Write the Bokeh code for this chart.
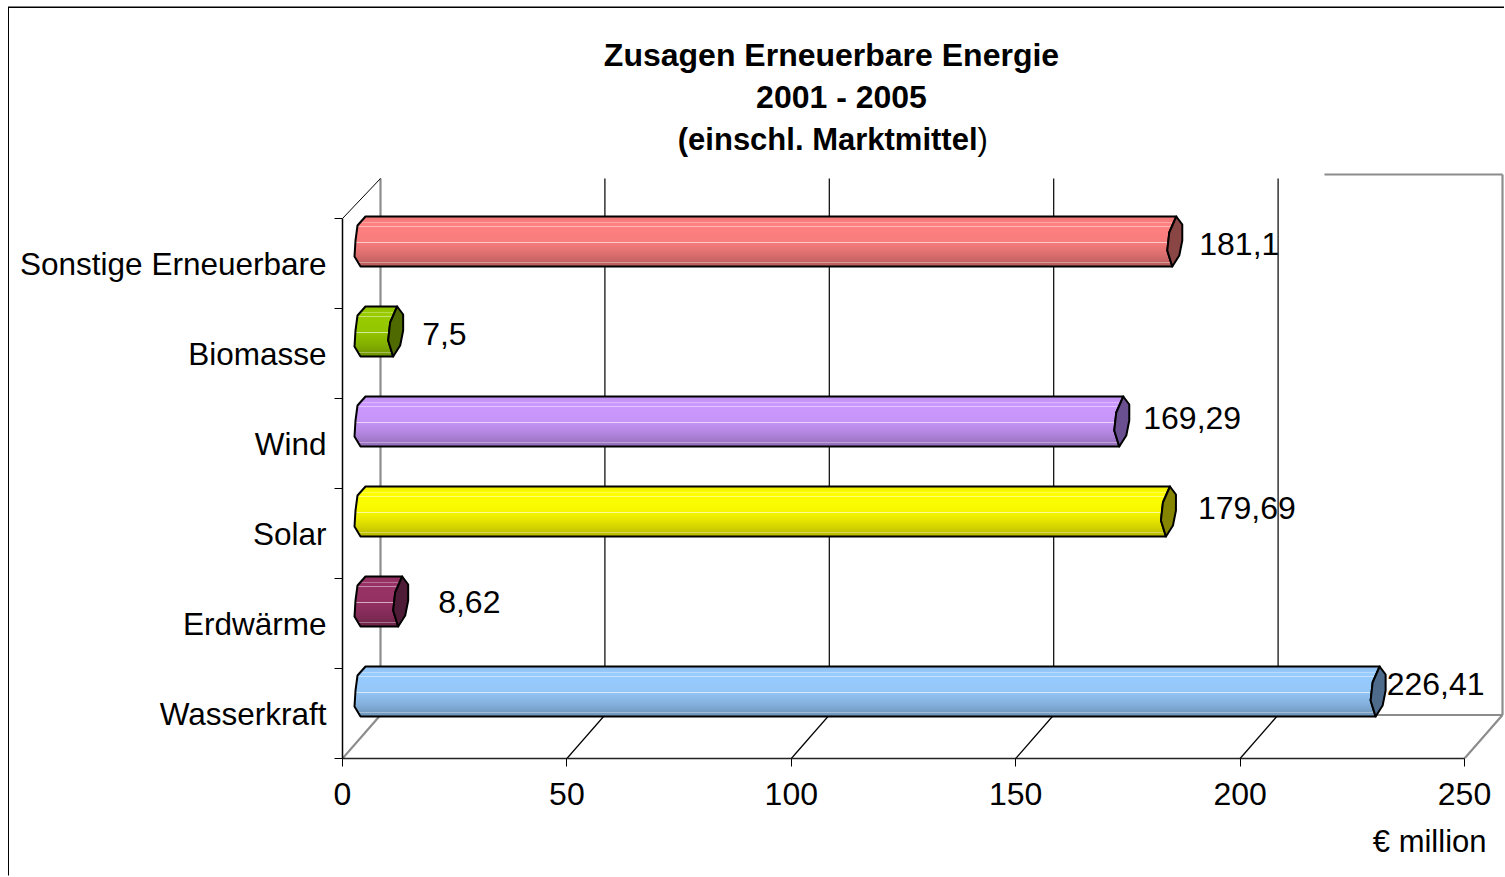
from bokeh.plotting import figure
from bokeh.embed import file_html
from bokeh.resources import INLINE
from bokeh.core.properties import value
from bokeh.models import FixedTicker, Title, Range1d, ColumnDataSource

# ---- data (bottom to top, as on the axis) ----
categories = ["Wasserkraft", "Erdwärme", "Solar", "Wind", "Biomasse", "Sonstige Erneuerbare"]
values = [226.41, 8.62, 179.69, 169.29, 7.5, 181.1]
value_labels = ["226,41", "8,62", "179,69", "169,29", "7,5", "181,1"]
x_ticks = [0, 50, 100, 150, 200, 250]
title_lines = ["Zusagen Erneuerbare Energie", "2001 - 2005", "(einschl. Marktmittel"]
title_tail = ")"
unit_label = "€ million"

# ---- styles ----
base_colors = ["#99CCFF", "#993366", "#FFFF00", "#CC99FF", "#99CC00", "#FF8080"]
cap_colors = ["#4F6B8C", "#4F1C38", "#858500", "#6A5090", "#4F6A00", "#8A4545"]
label_dx = [28, 57, 49, 41, 46, 44]
label_dy = [-30, -22, -26, -26, -20, -20]
FONT = "Liberation Sans"
PX_X = 4.488   # pixels per unit on x
PX_Y = 90.0    # pixels per category on y
BAR_H = 50
BAR_RISE = 42  # pixels from category base to bar bottom
DEPTH_X = 38
DEPTH_Y = 43.5
TOP_Y = 580

PAGE_L, PAGE_T = 9, 8
W, H = 1505 - PAGE_L, 877 - PAGE_T
LEFT, BOTTOM_PX = 342 - PAGE_L, 877 - 758

def dx(px):
    return px / PX_X

def dy(px):
    return px / PX_Y

p = figure(width=W, height=H, output_backend="svg", toolbar_location=None,
           x_range=Range1d(0, (1505 - 342) / PX_X), y_range=Range1d(0, (758 - PAGE_T) / PX_Y),
           min_border_left=LEFT, min_border_bottom=BOTTOM_PX, min_border_top=0, min_border_right=0,
           tools="")
p.outline_line_color = None
p.grid.visible = False
p.styles = {"margin-left": f"{PAGE_L}px", "margin-top": f"{PAGE_T}px",
            "box-shadow": "-1px -1.5px 0 0 #000000"}

# ---- axes ----
xa = p.xaxis[0]
xa.ticker = FixedTicker(ticks=x_ticks)
xa.bounds = (0, 250)
xa.major_tick_out = 8
xa.major_tick_in = 0
xa.minor_tick_out = 0
xa.minor_tick_in = 0
xa.axis_line_color = "#222222"
xa.axis_line_width = 1.5
xa.major_tick_line_color = "black"
xa.major_label_text_font = FONT
xa.major_label_text_font_size = "32px"
xa.major_label_text_color = "black"
xa.major_label_standoff = 16

ya = p.yaxis[0]
centers = [i + 0.5 for i in range(len(categories))]
ya.ticker = FixedTicker(ticks=centers, minor_ticks=list(range(len(categories) + 1)))
ya.major_label_overrides = {c: n for c, n in zip(centers, categories)}
ya.bounds = (0, len(categories))
ya.major_tick_out = 0
ya.major_tick_in = 0
ya.minor_tick_out = 8
ya.minor_tick_in = 0
ya.minor_tick_line_color = "black"
ya.axis_line_color = "black"
ya.axis_line_width = 1.5
ya.major_label_text_font = FONT
ya.major_label_text_font_size = "31.5px"
ya.major_label_text_color = "black"
ya.major_label_standoff = 8

# ---- 3-D walls ----
for t in x_ticks:
    edge = t in (0, 250)
    col, lw = ("#8c8c8c", 2.2) if edge else ("black", 1.2)
    # floor
    p.line([t, t + dx(DEPTH_X)], [0, dy(DEPTH_Y)], line_color=col, line_width=lw)
    # back wall
    top = dy(TOP_Y + 4) if t == 250 else dy(TOP_Y)
    p.line([t + dx(DEPTH_X)] * 2, [dy(DEPTH_Y), top], line_color=col, line_width=lw)
p.line([0, dx(DEPTH_X)], [len(categories), dy(TOP_Y)], line_color="black", line_width=1)
# back wall, bottom and the visible piece of its top edge
p.line([0 + dx(DEPTH_X), 250 + dx(DEPTH_X)], [dy(DEPTH_Y)] * 2, line_color="#8c8c8c", line_width=2.2)
p.line([218.8, 250 + dx(DEPTH_X)], [dy(TOP_Y + 4)] * 2, line_color="#8c8c8c", line_width=2.2)

# ---- cylinder outline, pixel offsets from bar top ----
left_off = [(23, 0), (15, 9), (13, 24), (12, 40), (18, 50)]
inner_off = [(21, 0), (14, 16), (12, 34), (17, 50)]
outer_off = [(21, 0), (27, 8), (27, 24), (24, 39), (17, 50)]
shade_stops = [(0, 0.93), (0.14, 1.0), (0.5, 0.97), (0.72, 0.88), (1.0, 0.72)]
highlight_at = {6: 0.3, 10: 0.45, 26: 0.6, 46: 0.35}

def interp(pairs, y):
    """x offset of a polyline given as (x, y) at height y"""
    for (x0, y0), (x1, y1) in zip(pairs, pairs[1:]):
        if y0 <= y <= y1:
            return x0 + (x1 - x0) * (y - y0) / (y1 - y0)
    return pairs[-1][0]

def shade(t):
    for (t0, s0), (t1, s1) in zip(shade_stops, shade_stops[1:]):
        if t0 <= t <= t1:
            return s0 + (s1 - s0) * (t - t0) / (t1 - t0)
    return shade_stops[-1][1]

def mix(hex_col, s):
    rgb = [int(hex_col[k:k + 2], 16) * s for k in (1, 3, 5)]
    return "#%02x%02x%02x" % tuple(int(round(c)) for c in rgb)

STRIP = 2
for i, v in enumerate(values):
    y_top_px = BAR_RISE + BAR_H + PX_Y * i
    L, R, T, B, C = [], [], [], [], []
    for s in range(0, BAR_H, STRIP):
        mid = s + STRIP / 2
        L.append(dx(interp(left_off, mid)))
        R.append(v + dx(interp(inner_off, mid)))
        T.append(dy(y_top_px - s))
        B.append(dy(y_top_px - s - STRIP - 0.4))
        C.append(mix(base_colors[i], shade(mid / BAR_H)))
    p.quad(left=L, right=R, top=T, bottom=B, fill_color=C, line_color=None)
    # thin highlight bands
    for off, strength in highlight_at.items():
        p.line([dx(interp(left_off, off)), v + dx(interp(inner_off, off))], [dy(y_top_px - off)] * 2,
               line_color="white", line_alpha=strength, line_width=1.2)
    # body outline
    bx = [dx(a) for a, _ in left_off] + [v + dx(a) for a, _ in inner_off[::-1]]
    by = [dy(y_top_px - b) for _, b in left_off] + [dy(y_top_px - b) for _, b in inner_off[::-1]]
    p.patch(bx, by, fill_color=None, line_color="black", line_width=2, line_join="round")
    # end cap
    cx = [v + dx(a) for a, _ in outer_off] + [v + dx(a) for a, _ in inner_off[::-1]]
    cy = [dy(y_top_px - b) for _, b in outer_off] + [dy(y_top_px - b) for _, b in inner_off[::-1]]
    p.patch(cx, cy, fill_color=cap_colors[i], line_color="black", line_width=2, line_join="round")

# ---- value labels ----
src = ColumnDataSource(dict(x=values, y=centers, t=value_labels, xo=label_dx, yo=label_dy))
p.text("x", "y", text="t", source=src, x_offset="xo", y_offset="yo",
       text_font=value(FONT), text_font_size="32px", text_color="black",
       text_align="left", text_baseline="middle")

# ---- title ----
p.text([(831 - 342) / PX_X], [(758 - 54) / PX_Y], text=[title_lines[0]], text_font=value(FONT),
       text_font_size="32px", text_font_style="bold", text_color="black",
       text_align="center", text_baseline="middle")
p.text([(841 - 342) / PX_X], [(758 - 96) / PX_Y], text=[title_lines[1]], text_font=value(FONT),
       text_font_size="32px", text_font_style="bold", text_color="black",
       text_align="center", text_baseline="middle")
T3X = (977 - 342) / PX_X
p.text([T3X], [(758 - 139) / PX_Y], text=[title_lines[2]], text_font=value(FONT), text_font_size="31px",
       text_font_style="bold", text_color="black", text_align="right", text_baseline="middle")
p.text([T3X], [(758 - 139) / PX_Y], text=[title_tail], text_font=value(FONT), text_font_size="31px",
       text_color="black", text_align="left", text_baseline="middle")

# ---- unit label in the panel below the axis ----
p.add_layout(Title(text=unit_label, align="right", offset=19, standoff=28,
                   text_font=FONT, text_font_size="31px", text_font_style="normal",
                   text_color="black"), "below")

open("out.html", "w").write(file_html(p, INLINE))
